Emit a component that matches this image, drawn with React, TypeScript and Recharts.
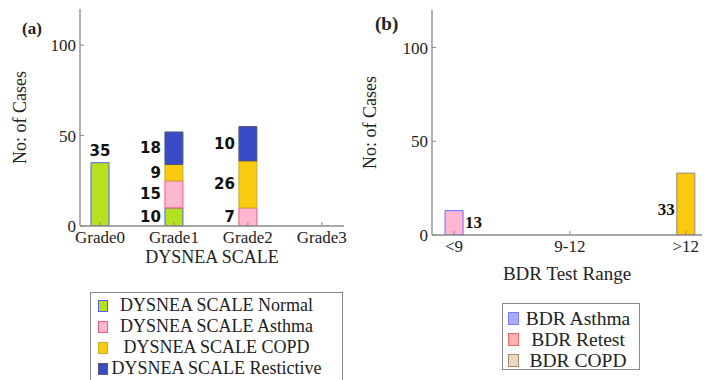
import React from "react";
import { BarChart, Bar, XAxis, YAxis, LabelList, Label, Cell } from "recharts";

// panel (a): dysnea scale
const dysneaGrades = ["Grade0", "Grade1", "Grade2", "Grade3"];
const normalCases = [35, 10, 0, 0];
const asthmaCases = [0, 15, 10, 0];
const copdCases = [0, 9, 26, 0];
const restrictiveCases = [0, 18, 19, 0];
// printed labels (they don't always agree with the bar heights in the source)
const normalLabels = ["35", "10", "", ""];
const asthmaLabels = ["", "15", "7", ""];
const copdLabels = ["", "9", "26", ""];
const restrictiveLabels = ["", "18", "10", ""];

// panel (b): BDR test
const bdrRanges = ["<9", "9-12", ">12"];
const bdrCases = [13, 0, 33];
const bdrLabels = ["13", "", "33"];
const bdrLegendNames = ["BDR Asthma", "BDR Retest", "BDR COPD"];

const yTicks = [0, 50, 100];

const SERIF = "Liberation Serif, Times New Roman, DejaVu Serif, serif";
const SANS = "DejaVu Sans, sans-serif";
const FRAME = "#8a8a8a";
const TEXT = "#222";

const dysneaSeries = [
  { key: "normal", name: "DYSNEA SCALE Normal", fill: "#b5e21c", stroke: "#4f60f0" },
  { key: "asthma", name: "DYSNEA SCALE Asthma", fill: "#ffb6cf", stroke: "#f05c7c" },
  { key: "copd", name: "DYSNEA SCALE COPD", fill: "#f9ca0e", stroke: "#c9a830" },
  { key: "restrictive", name: "DYSNEA SCALE Restictive", fill: "#3a4bc8", stroke: "#555a70" },
];

const bdrBarStyle = [
  { fill: "#ffb6d2", stroke: "#6c6cf5" },
  { fill: "#8c8cff", stroke: "#5555ee" },
  { fill: "#f9ca0e", stroke: "#8f8a6a" },
];

const bdrLegendStyle = [
  { fill: "#a9abff", stroke: "#7a7cf5" },
  { fill: "#ffb0b6", stroke: "#f06a6a" },
  { fill: "#ecd7c3", stroke: "#a8876a" },
];

const dysneaData = dysneaGrades.map((grade, i) => ({
  pos: i,
  grade,
  normal: normalCases[i],
  asthma: asthmaCases[i],
  copd: copdCases[i],
  restrictive: restrictiveCases[i],
  normalLabel: normalLabels[i],
  asthmaLabel: asthmaLabels[i],
  copdLabel: copdLabels[i],
  restrictiveLabel: restrictiveLabels[i],
}));

const bdrData = bdrRanges.map((range, i) => ({
  pos: i,
  range,
  cases: bdrCases[i],
  label: bdrLabels[i],
}));

const boxOf = (props: any) => {
  const vb = props.viewBox ?? props;
  const x = Number(vb.x) || 0;
  const y = Number(vb.y) || 0;
  const width = Number(vb.width) || 0;
  const height = Number(vb.height) || 0;
  return { x, y: Math.min(y, y + height), width, height: Math.abs(height) };
};

// label values come in as "pos|text" so the category is known (LabelList skips empty bars)
const splitLabel = (value: any) => {
  const [pos, text] = String(value ?? "").split("|");
  return { pos: Number(pos), text: text ?? "" };
};

const labelKey = (key: string) => (d: any) => (d[key] ? `${d.pos}|${d[key]}` : "");

const dysneaBarLabel = (props: any) => {
  const { pos, text } = splitLabel(props.value);
  if (!text) return null;
  const { x, y, width, height } = boxOf(props);
  const common = { fill: "#111", fontSize: 15, fontWeight: 700, fontFamily: SANS };
  if (pos === 0) {
    return (
      <text x={x + width / 2} y={y - 12} textAnchor="middle" dominantBaseline="central" {...common}>
        {text}
      </text>
    );
  }
  return (
    <text x={x - 4} y={y + height / 2} textAnchor="end" dominantBaseline="central" {...common}>
      {text}
    </text>
  );
};

const bdrBarLabel = (props: any) => {
  const { pos, text } = splitLabel(props.value);
  if (!text) return null;
  const { x, y, width, height } = boxOf(props);
  const common = { fill: "#111", fontSize: 17, fontWeight: 700, fontFamily: SERIF };
  const right = pos === 0;
  return (
    <text
      x={right ? x + width + 2 : x - 2}
      y={y + height / 2 + (right ? 0 : 5)}
      textAnchor={right ? "start" : "end"}
      dominantBaseline="central"
      {...common}
    >
      {text}
    </text>
  );
};

const xTitle = (text: string, dy: number, size: number) => (props: any) => {
  const { x, y, width } = boxOf(props);
  return (
    <text x={x + width / 2} y={y + dy} textAnchor="middle" dominantBaseline="central" fill={TEXT} fontSize={size} fontFamily={SERIF}>
      {text}
    </text>
  );
};

const yTitle = (text: string, dx: number, size: number) => (props: any) => {
  const { x, y, height } = boxOf(props);
  const cx = x + dx;
  const cy = y + height / 2;
  return (
    <text x={cx} y={cy} textAnchor="middle" dominantBaseline="central" fill={TEXT} fontSize={size} fontFamily={SERIF} transform={`rotate(-90 ${cx} ${cy})`}>
      {text}
    </text>
  );
};

const tickStyle = { fill: TEXT, fontSize: 17, fontFamily: SERIF };
const axisLine = { stroke: FRAME, strokeWidth: 1.3 };
const tickLine = { stroke: FRAME, strokeWidth: 1 };

interface LegendItem {
  name: string;
  fill: string;
  stroke: string;
}

const LegendBox: React.FC<{
  items: LegendItem[];
  left: number;
  top: number;
  width: number;
  height: number;
  fontSize: number;
  padTop: number;
  swatchLeft: number;
  swatchW: number;
  swatchH: number;
  textPadLeft: number;
}> = ({ items, left, top, width, height, fontSize, padTop, swatchLeft, swatchW, swatchH, textPadLeft }) => (
  <div
    style={{
      position: "absolute",
      left,
      top,
      width,
      height,
      border: `1px solid ${FRAME}`,
      boxSizing: "border-box",
      paddingTop: padTop,
      background: "#fff",
      fontFamily: SERIF,
      fontSize,
      color: TEXT,
    }}
  >
    {items.map((it) => (
      <div key={it.name} style={{ position: "relative", height: 21, lineHeight: "21px" }}>
        <div
          style={{
            position: "absolute",
            left: swatchLeft,
            top: (21 - swatchH) / 2,
            width: swatchW,
            height: swatchH,
            background: it.fill,
            border: `1px solid ${it.stroke}`,
            boxSizing: "border-box",
          }}
        />
        <div style={{ textAlign: "center", paddingLeft: textPadLeft, whiteSpace: "nowrap" }}>{it.name}</div>
      </div>
    ))}
  </div>
);

const App: React.FC = () => {
  return (
    <div style={{ position: "absolute", left: 0, top: 0, width: 705, height: 380, overflow: "hidden", background: "#fff" }}>
      {/* panel (a) */}
      <div style={{ position: "absolute", left: 0, top: 0 }}>
        <BarChart width={350} height={280} data={dysneaData} margin={{ top: 9, right: 6, bottom: 0, left: 0 }}>
          <XAxis
            dataKey="pos"
            type="number"
            domain={[-0.27, 3.3]}
            ticks={[0, 1, 2, 3]}
            allowDataOverflow
            interval={0}
            tickFormatter={(v: number) => dysneaGrades[Math.round(v)] ?? ""}
            height={54}
            axisLine={axisLine}
            tickLine={tickLine}
            tickSize={-4}
            tickMargin={9}
            tick={tickStyle}
          >
            <Label content={xTitle("DYSNEA SCALE", 31, 18)} />
          </XAxis>
          <XAxis
            xAxisId="top"
            orientation="top"
            dataKey="pos"
            type="number"
            domain={[-0.27, 3.3]}
            ticks={[0, 1, 2, 3]}
            allowDataOverflow
            height={0}
            axisLine={axisLine}
            tickLine={tickLine}
            tickSize={-4}
            tick={false}
          />
          <YAxis
            domain={[0, 120]}
            ticks={yTicks}
            allowDataOverflow
            width={80}
            axisLine={axisLine}
            tickLine={tickLine}
            tickSize={-4}
            tickMargin={8}
            tick={tickStyle}
          >
            <Label content={yTitle("No: of Cases", 20, 18)} />
          </YAxis>
          <YAxis
            yAxisId="right"
            orientation="right"
            domain={[0, 120]}
            ticks={yTicks}
            allowDataOverflow
            width={0}
            axisLine={axisLine}
            tickLine={tickLine}
            tickSize={-4}
            tick={false}
          />
          {dysneaSeries.map((s) => (
            <Bar
              key={s.key}
              dataKey={s.key}
              name={s.name}
              stackId="dysnea"
              barSize={18}
              fill={s.fill}
              stroke={s.stroke}
              strokeWidth={1}
              isAnimationActive={false}
            >
              <LabelList dataKey={labelKey(`${s.key}Label`)} content={dysneaBarLabel} />
            </Bar>
          ))}
        </BarChart>
      </div>
      <div style={{ position: "absolute", left: 22, top: 19, fontFamily: SERIF, fontWeight: 700, fontSize: 17, color: TEXT }}>(a)</div>

      {/* panel (b) */}
      <div style={{ position: "absolute", left: 352, top: 0 }}>
        <BarChart width={353} height={290} data={bdrData} margin={{ top: 10, right: 3, bottom: 0, left: 0 }}>
          <XAxis
            dataKey="pos"
            type="number"
            domain={[-0.19, 2.14]}
            ticks={[0, 1, 2]}
            allowDataOverflow
            interval={0}
            tickFormatter={(v: number) => bdrRanges[Math.round(v)] ?? ""}
            height={55}
            axisLine={axisLine}
            tickLine={tickLine}
            tickSize={-4}
            tickMargin={9}
            tick={tickStyle}
          >
            <Label content={xTitle("BDR Test Range", 38, 19)} />
          </XAxis>
          <XAxis
            xAxisId="top"
            orientation="top"
            dataKey="pos"
            type="number"
            domain={[-0.19, 2.14]}
            ticks={[0, 1, 2]}
            allowDataOverflow
            height={0}
            axisLine={axisLine}
            tickLine={tickLine}
            tickSize={-4}
            tick={false}
          />
          <YAxis
            domain={[0, 120]}
            ticks={yTicks}
            allowDataOverflow
            width={80}
            axisLine={axisLine}
            tickLine={tickLine}
            tickSize={-4}
            tickMargin={8}
            tick={tickStyle}
          >
            <Label content={yTitle("No: of Cases", 18, 18)} />
          </YAxis>
          <YAxis
            yAxisId="right"
            orientation="right"
            domain={[0, 120]}
            ticks={yTicks}
            allowDataOverflow
            width={0}
            axisLine={axisLine}
            tickLine={tickLine}
            tickSize={-4}
            tick={false}
          />
          <Bar dataKey="cases" barSize={18} strokeWidth={1} isAnimationActive={false}>
            {bdrData.map((d, i) => (
              <Cell key={d.range} fill={bdrBarStyle[i].fill} stroke={bdrBarStyle[i].stroke} />
            ))}
            <LabelList dataKey={labelKey("label")} content={bdrBarLabel} />
          </Bar>
        </BarChart>
      </div>
      <div style={{ position: "absolute", left: 375, top: 13, fontFamily: SERIF, fontWeight: 700, fontSize: 19, color: TEXT }}>(b)</div>

      <LegendBox
        items={dysneaSeries}
        left={90}
        top={292}
        width={253}
        height={100}
        fontSize={18}
        padTop={2}
        swatchLeft={7}
        swatchW={10}
        swatchH={12}
        textPadLeft={0}
      />
      <LegendBox
        items={bdrLegendNames.map((name, i) => ({ name, ...bdrLegendStyle[i] }))}
        left={502}
        top={303}
        width={138}
        height={67}
        fontSize={19.5}
        padTop={4}
        swatchLeft={5}
        swatchW={11}
        swatchH={13}
        textPadLeft={14}
      />
    </div>
  );
};

export default App;
